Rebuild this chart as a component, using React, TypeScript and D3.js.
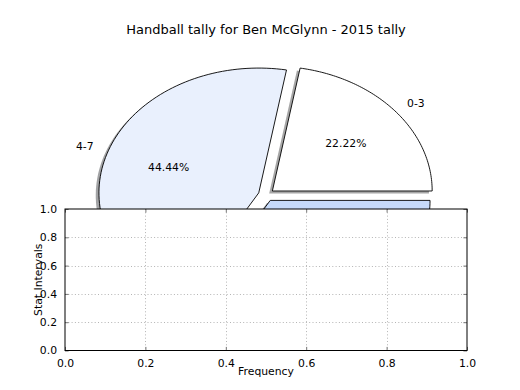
import { useEffect, useRef } from 'react';
import * as d3 from 'd3';

const intervals = ['0-3', '4-7', '8-11'];
const tallies = [2, 4, 3];
const sliceColors = ['#ffffff', '#e9f0fd', '#c6dafa'];
const xTicks = [0, 0.2, 0.4, 0.6, 0.8, 1.0];
const yTicks = [0, 0.2, 0.4, 0.6, 0.8, 1.0];

const W = 520;
const H = 390;

function drawChart(node: SVGSVGElement) {
  const svg = d3.select(node);
  svg.selectAll('*').remove();
  const font = 'DejaVu Sans, sans-serif';

  // pie axes fills the default subplot box, without equal aspect
  const pieX = d3.scaleLinear().domain([-1.25, 1.25]).range([66.5, 466]);
  const pieY = d3.scaleLinear().domain([-1.25, 1.25]).range([351, 39]);

  const pie = d3.pie<number>().sort(null).startAngle(0).endAngle(2 * Math.PI);
  const arcs = pie(tallies);
  const total = d3.sum(tallies);
  const explode = 0.05;

  const line = d3.line<[number, number]>().x(d => pieX(d[0])).y(d => pieY(d[1]));

  const wedge = (a: d3.PieArcDatum<number>, ox: number, oy: number) => {
    const mid = (a.startAngle + a.endAngle) / 2;
    const cx = explode * Math.cos(mid) + ox;
    const cy = explode * Math.sin(mid) + oy;
    const steps = 90;
    const pts: [number, number][] = [[cx, cy]];
    for (let i = 0; i <= steps; i++) {
      const t = a.startAngle + (a.endAngle - a.startAngle) * i / steps;
      pts.push([cx + Math.cos(t), cy + Math.sin(t)]);
    }
    pts.push([cx, cy]);
    return line(pts) + 'Z';
  };

  const shade = (c: string) => {
    const rgb = d3.rgb(c);
    return d3.rgb(rgb.r * 0.3, rgb.g * 0.3, rgb.b * 0.3).toString();
  };

  svg.append('g')
    .selectAll('path')
    .data(arcs)
    .join('path')
    .attr('d', d => wedge(d, -0.02, -0.02))
    .attr('fill', (d, i) => shade(sliceColors[i]))
    .attr('fill-opacity', 0.5);

  svg.append('g')
    .selectAll('path')
    .data(arcs)
    .join('path')
    .attr('d', d => wedge(d, 0, 0))
    .attr('fill', (d, i) => sliceColors[i])
    .attr('stroke', '#000')
    .attr('stroke-width', 0.9)
    .attr('stroke-linejoin', 'miter');

  const labels = svg.append('g').attr('font-family', font).attr('font-size', 10.8).attr('fill', '#000');
  arcs.forEach((a, i) => {
    const mid = (a.startAngle + a.endAngle) / 2;
    const cx = explode * Math.cos(mid);
    const cy = explode * Math.sin(mid);
    labels.append('text')
      .attr('x', pieX(cx + 1.1 * Math.cos(mid)))
      .attr('y', pieY(cy + 1.1 * Math.sin(mid)))
      .attr('dy', '0.35em')
      .attr('text-anchor', Math.cos(mid) > 0 ? 'start' : 'end')
      .text(intervals[i]);
    labels.append('text')
      .attr('x', pieX(cx + 0.6 * Math.cos(mid)))
      .attr('y', pieY(cy + 0.6 * Math.sin(mid)))
      .attr('dy', '0.35em')
      .attr('text-anchor', 'middle')
      .text(d3.format('.2f')((tallies[i] / total) * 100) + '%');
  });

  svg.append('text')
    .attr('x', 266)
    .attr('y', 34)
    .attr('text-anchor', 'middle')
    .attr('font-family', font)
    .attr('font-size', 13)
    .text('Handball tally for Ben McGlynn - 2015 tally');

  // second axes drawn on top of the pie
  const x = d3.scaleLinear().domain([0, 1]).range([65, 467]);
  const y = d3.scaleLinear().domain([0, 1]).range([350.5, 209]);
  const ax = svg.append('g');

  ax.append('rect')
    .attr('x', x(0)).attr('y', y(1))
    .attr('width', x(1) - x(0)).attr('height', y(0) - y(1))
    .attr('fill', '#fff');

  const grid = ax.append('g').attr('stroke', '#b4b4b4').attr('stroke-width', 1).attr('stroke-dasharray', '1,2.3');
  xTicks.slice(1, -1).forEach(t => {
    grid.append('line').attr('x1', Math.round(x(t)) + 0.5).attr('x2', Math.round(x(t)) + 0.5).attr('y1', y(1)).attr('y2', y(0));
  });
  yTicks.slice(1, -1).forEach(t => {
    grid.append('line').attr('y1', Math.round(y(t)) + 0.5).attr('y2', Math.round(y(t)) + 0.5).attr('x1', x(0)).attr('x2', x(1));
  });

  const bottom = d3.axisBottom(x).tickValues(xTicks).tickFormat(d3.format('.1f')).tickSizeInner(-3.6).tickSizeOuter(0).tickPadding(9);
  const left = d3.axisLeft(y).tickValues(yTicks).tickFormat(d3.format('.1f')).tickSizeInner(-3.6).tickSizeOuter(0).tickPadding(8);
  const top = d3.axisTop(x).tickValues(xTicks).tickFormat(() => '').tickSizeInner(-3.6).tickSizeOuter(0);
  const right = d3.axisRight(y).tickValues(yTicks).tickFormat(() => '').tickSizeInner(-3.6).tickSizeOuter(0);

  const styleAxis = (g: d3.Selection<SVGGElement, unknown, null, undefined>) => {
    g.select('.domain').remove();
    g.selectAll('line').attr('stroke', '#777');
    g.selectAll('text').attr('font-family', font).attr('font-size', 10.8).attr('fill', '#000');
  };
  ax.append('g').attr('transform', `translate(0,${y(0)})`).call(bottom).call(styleAxis);
  ax.append('g').attr('transform', `translate(${x(0)},0)`).call(left).call(styleAxis);
  ax.append('g').attr('transform', `translate(0,${y(1)})`).call(top).call(styleAxis);
  ax.append('g').attr('transform', `translate(${x(1)},0)`).call(right).call(styleAxis);

  ax.append('rect')
    .attr('x', x(0)).attr('y', y(1))
    .attr('width', x(1) - x(0)).attr('height', y(0) - y(1))
    .attr('fill', 'none')
    .attr('stroke', '#000')
    .attr('stroke-width', 1);

  ax.append('text')
    .attr('x', (x(0) + x(1)) / 2)
    .attr('y', 375)
    .attr('text-anchor', 'middle')
    .attr('font-family', font)
    .attr('font-size', 10.8)
    .text('Frequency');

  ax.append('text')
    .attr('transform', `translate(42,${(y(0) + y(1)) / 2}) rotate(-90)`)
    .attr('text-anchor', 'middle')
    .attr('font-family', font)
    .attr('font-size', 10.8)
    .text('Stat Intervals');
}

export default function App() {
  const ref = useRef<SVGSVGElement>(null);

  useEffect(() => {
    if (ref.current) drawChart(ref.current);
  }, []);

  return <svg ref={ref} width={W} height={H} style={{ display: 'block', margin: '-8px', background: '#fff' }} />;
}
